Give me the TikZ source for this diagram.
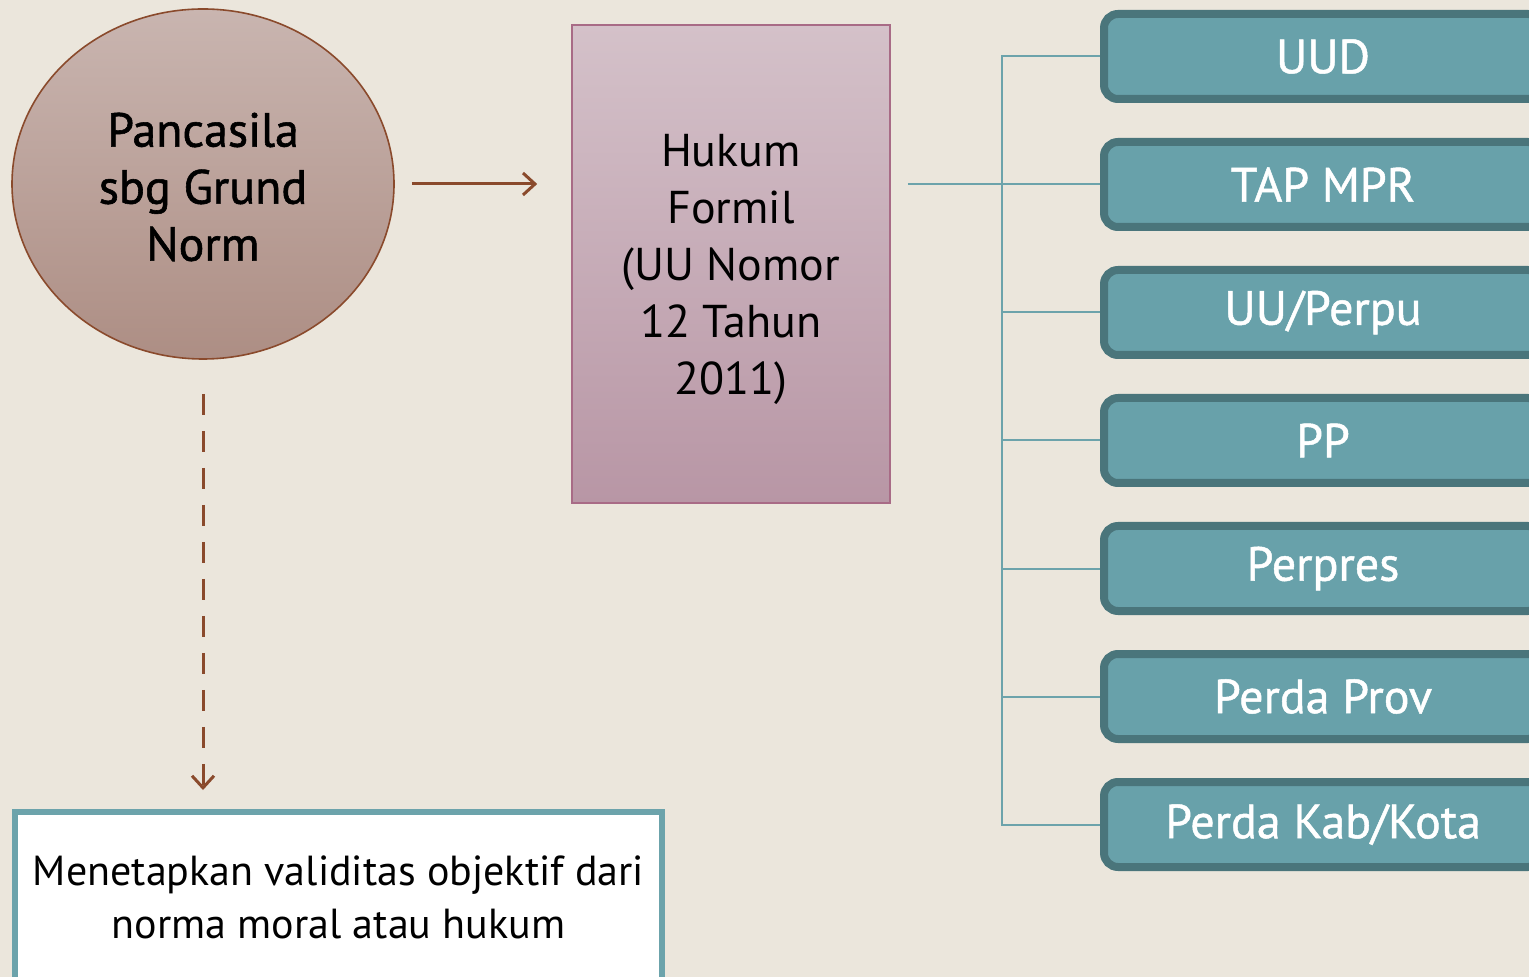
\documentclass[tikz,border=0pt]{standalone}
\usepackage{fontspec}
\setmainfont{PT Sans}
\usepackage[usenames,dvipsnames]{xcolor}
\usepackage{tikz}
\usetikzlibrary{shapes.geometric}
\usetikzlibrary{arrows.meta}

\definecolor{latar}{HTML}{EBE6DC}
\definecolor{coklat}{HTML}{8A4A2C}
\definecolor{bulatatas}{HTML}{C9B5B0}
\definecolor{bulatbawah}{HTML}{AD8E84}
\definecolor{ungutepi}{HTML}{A86B86}
\definecolor{unguatas}{HTML}{D4C1C9}
\definecolor{ungubawah}{HTML}{B896A5}
\definecolor{tosca}{HTML}{68A1AA}
\definecolor{toscatua}{HTML}{4A757B}
\definecolor{toscagaris}{HTML}{6CA3AB}

\begin{document}
\begin{tikzpicture}[
        x=0.5pt, y=-0.5pt,
        grund/.style={ellipse, draw=coklat, line width=0.8pt, top color=bulatatas, bottom color=bulatbawah,
            minimum width=191pt, minimum height=175pt, inner sep=0pt, align=center,
            font=\fontsize{24}{28.5}\selectfont\addfontfeature{FakeBold=1.2}},
        formil/.style={rectangle, draw=ungutepi, line width=0.8pt, top color=unguatas, bottom color=ungubawah,
            minimum width=159pt, minimum height=239pt, inner sep=0pt, align=center,
            font=\fontsize{23}{28.5}\selectfont},
        jenjang/.style={rectangle, rounded corners=7pt, draw=toscatua, line width=4pt, fill=tosca, text=white,
            minimum width=219pt, minimum height=42.5pt, inner sep=0pt,
            font=\fontsize{24}{28}\selectfont\addfontfeature{FakeBold=1}},
        makna/.style={rectangle, draw=toscagaris, line width=3pt, fill=white,
            minimum width=323.5pt, minimum height=85.5pt, inner sep=0pt, align=center,
            font=\fontsize{21}{26.5}\selectfont},
        link/.style={draw=toscagaris, line width=1pt},
        panah/.style={draw=coklat, line width=1.5pt, -{Straight Barb[length=6pt,width=11pt]}},
    ]
    \useasboundingbox (0,0) rectangle (1529,977);
    \fill[latar] (0,0) rectangle (1529,977);

    % dasar
    \node[grund] (grund) at (203,184) {\rule{0pt}{20pt}Pancasila\\sbg Grund\\Norm};
    \node[formil] (formil) at (731,264) {\rule{0pt}{22pt}Hukum\\Formil\\(UU Nomor\\12 Tahun\\2011)};
    \node[makna] (makna) at (338.5,897.5) {Menetapkan validitas objektif dari\\norma moral atau hukum};

    % hierarki
    \node[jenjang] (uud) at (1323,56.5) {UUD};
    \node[jenjang] (tap) at (1323,184.5) {TAP MPR};
    \node[jenjang] (uu) at (1323,312.5) {UU/Perpu};
    \node[jenjang] (pp) at (1323,440.5) {PP};
    \node[jenjang] (perpres) at (1323,568.5) {Perpres};
    \node[jenjang] (prov) at (1323,696.5) {Perda Prov};
    \node[jenjang] (kab) at (1323,824.5) {Perda Kab/Kota};

    % panah
    \draw[panah, shorten <=8.5pt, shorten >=17pt] (grund.east) -- (grund.east -| formil.west);
    \draw[panah, dash pattern=on 10.5pt off 8pt, shorten <=17pt, shorten >=9.5pt] (grund.south) -- (grund.south |- makna.north);

    % cabang
    \coordinate (hub) at (1002,184);
    \draw[link, shorten <=8.5pt] (formil.east |- hub) -- (hub);
    \draw[link] (hub) |- (uud.west);
    \draw[link] (hub) |- (tap.west);
    \draw[link] (hub) |- (uu.west);
    \draw[link] (hub) |- (pp.west);
    \draw[link] (hub) |- (perpres.west);
    \draw[link] (hub) |- (prov.west);
    \draw[link] (hub) |- (kab.west);
\end{tikzpicture}
\end{document}
